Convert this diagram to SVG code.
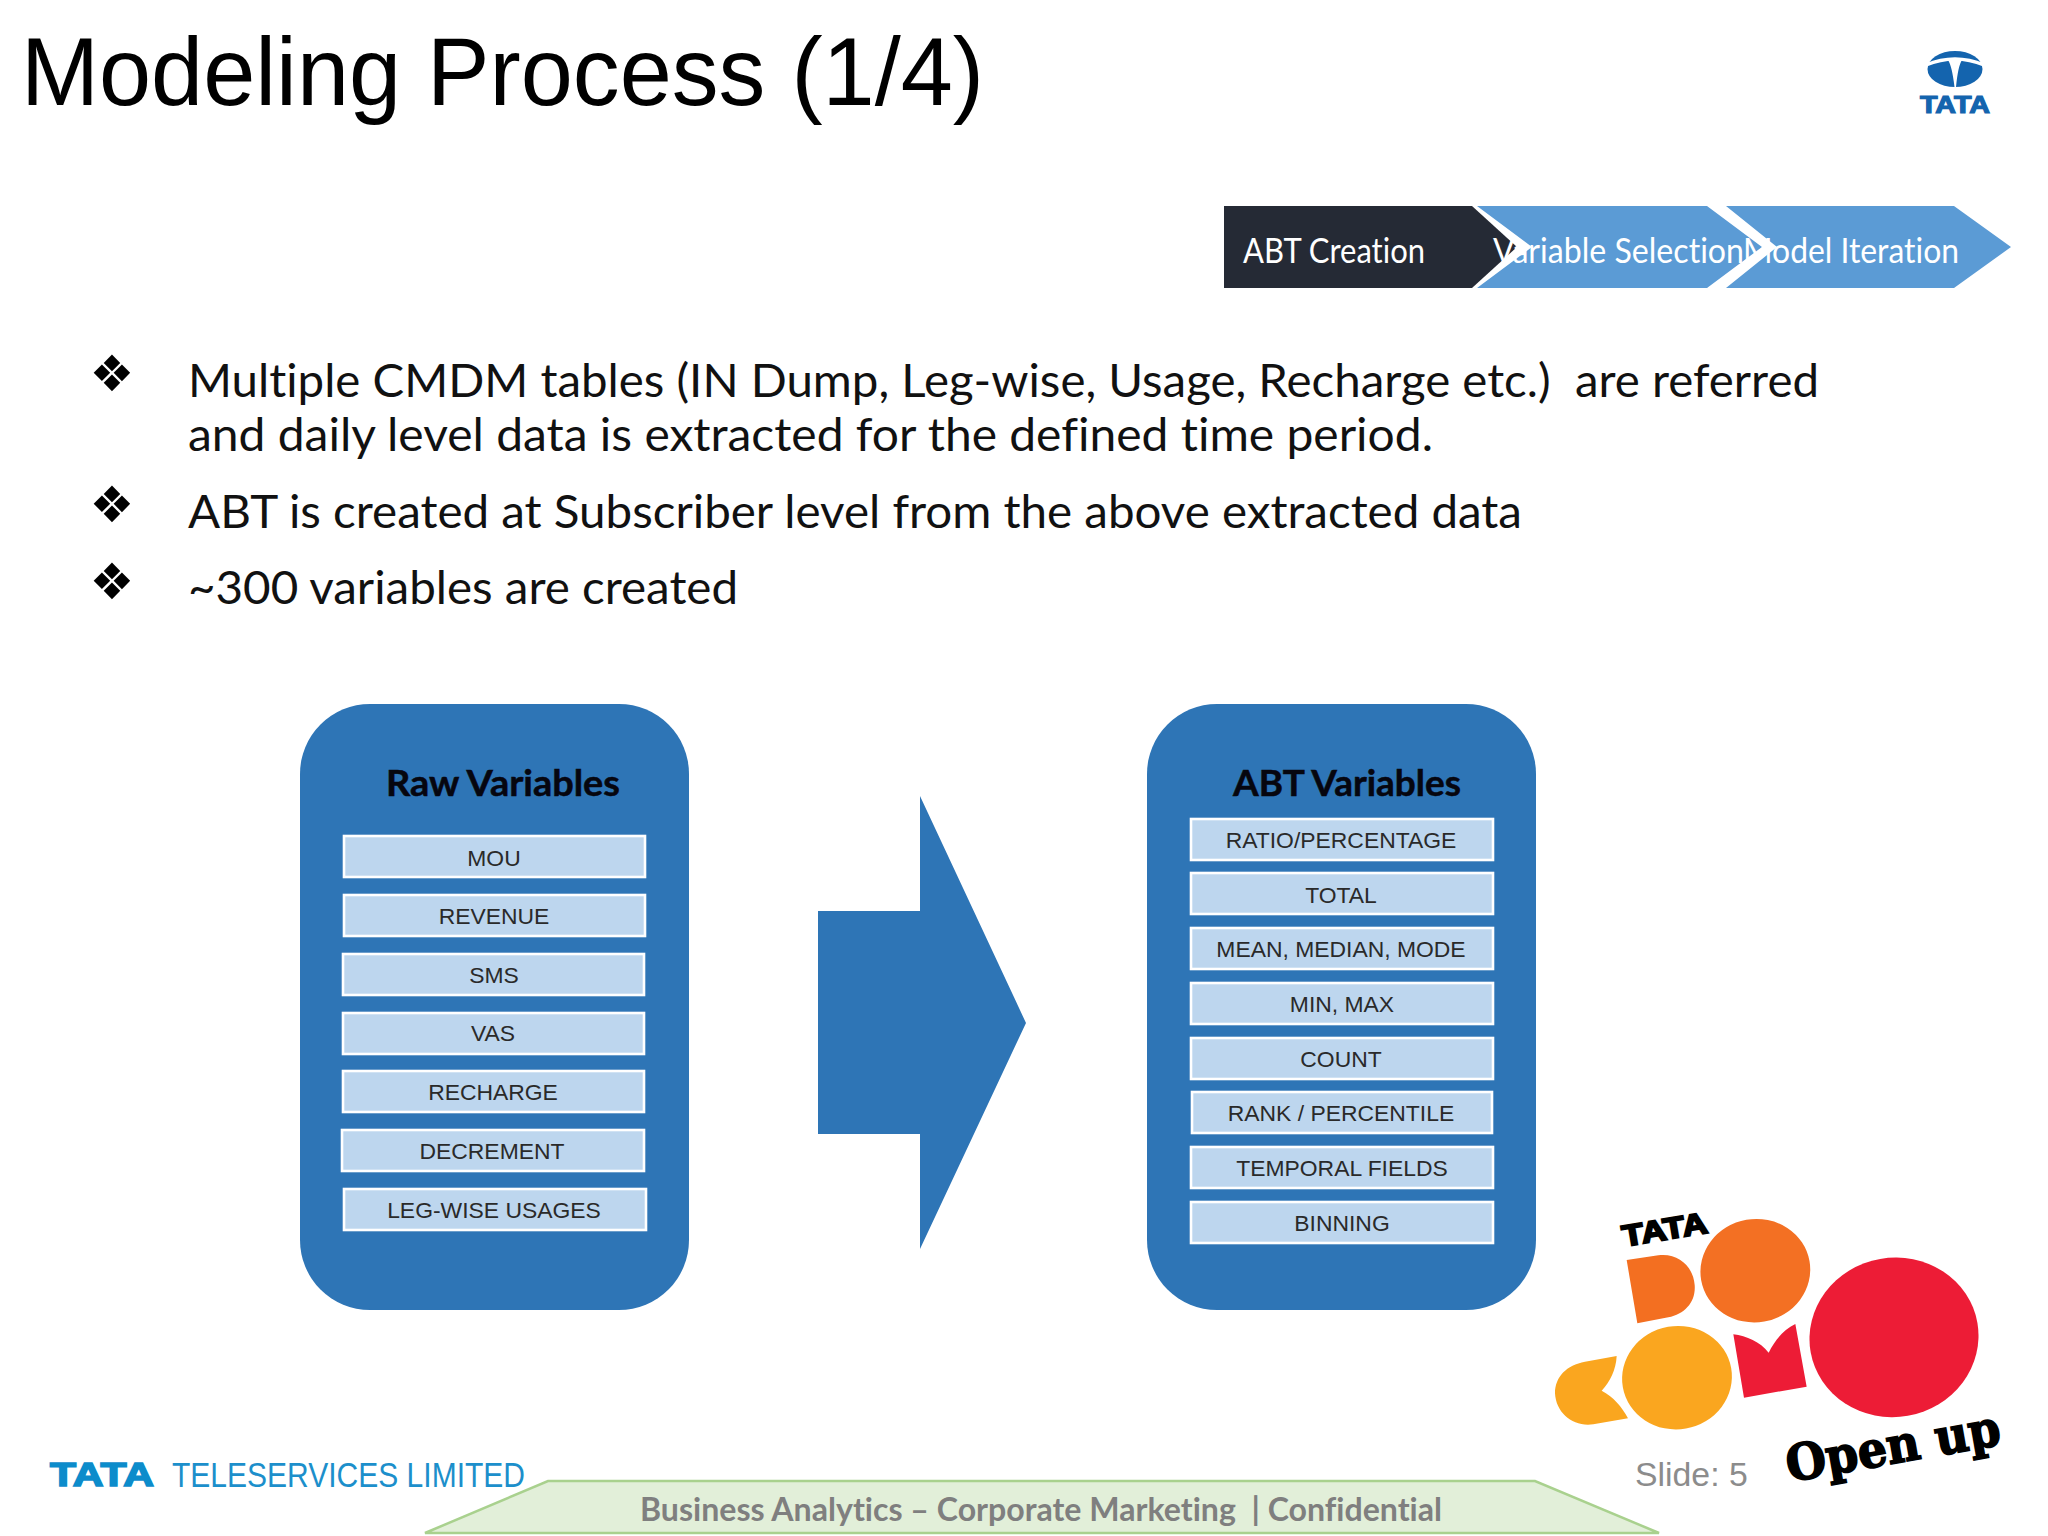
<svg xmlns="http://www.w3.org/2000/svg" width="2048" height="1536" viewBox="0 0 2048 1536">
<style>
text{font-variant-ligatures:none;white-space:pre}
.body{font-family:"Lato","Open Sans",sans-serif;font-size:46px;fill:#111}
.bul{font-family:"DejaVu Sans",sans-serif;font-size:50px;fill:#000;text-anchor:middle}
.chev{font-family:"Lato","Open Sans",sans-serif;font-size:34px;fill:#fff}
.panel{fill:#2E75B6}
.ptitle{font-family:"Lato","Open Sans",sans-serif;font-size:36px;font-weight:700;fill:#06060f;stroke:#06060f;stroke-width:.5}
.row rect{fill:#BDD6EE;stroke:#fff;stroke-width:2.6}
.row text{font-family:"Liberation Sans",Arial,sans-serif;font-size:22.900px;fill:#2a2a2a;text-anchor:middle}
.tata{font-family:"Liberation Sans",Arial,sans-serif;font-weight:700}
</style>
<rect width="2048" height="1536" fill="#fff"/>
<text id="title" x="21" y="105" font-family="Liberation Sans, Arial, sans-serif" font-size="96" fill="#000" textLength="963" lengthAdjust="spacingAndGlyphs">Modeling Process (1/4)</text>

<g id="tata-logo">
<ellipse cx="1955" cy="69" rx="27.500" ry="18" fill="#1464AE"/>
<path d="M1926 65 Q1955 53 1984 65" fill="none" stroke="#fff" stroke-width="3.500"/>
<path d="M1948 60 L1962 60 Q1958 66 1956 87 L1954.500 87 Q1952 66 1948 60 Z" fill="#fff"/>
<text class="tata" x="1920" y="113" font-size="24" fill="#1464AE" stroke="#1464AE" stroke-width="1.200" textLength="70" lengthAdjust="spacingAndGlyphs">TATA</text>
</g>

<g id="steps">
<g id="step-abt">
<polygon points="1224,206 1472,206 1517,247 1472,288 1224,288" fill="#252A35"/>
<text class="chev" x="1243" y="263" textLength="182" lengthAdjust="spacingAndGlyphs">ABT Creation</text>
</g>
<g id="step-var">
<polygon points="1477,206 1707,206 1762,247 1707,288 1477,288 1532,247" fill="#5B9BD5"/>
<text class="chev" x="1493" y="263" textLength="251" lengthAdjust="spacingAndGlyphs">Variable Selection</text>
</g>
<g id="step-model">
<polygon points="1726,206 1954,206 2011,247 1954,288 1726,288 1777,247" fill="#5B9BD5"/>
<text class="chev" x="1743" y="263" textLength="216" lengthAdjust="spacingAndGlyphs">Model Iteration</text>
</g>
</g>

<g id="bullets">
<text class="bul" x="112" y="391">❖</text>
<text class="bul" x="112" y="522">❖</text>
<text class="bul" x="112" y="599">❖</text>
<text class="body" x="188" y="397" textLength="1631" lengthAdjust="spacingAndGlyphs">Multiple CMDM tables (IN Dump, Leg-wise, Usage, Recharge etc.)  are referred</text>
<text class="body" x="188" y="451" textLength="1245" lengthAdjust="spacingAndGlyphs">and daily level data is extracted for the defined time period.</text>
<text class="body" x="188" y="528" textLength="1334" lengthAdjust="spacingAndGlyphs">ABT is created at Subscriber level from the above extracted data</text>
<text class="body" x="188" y="604" textLength="550" lengthAdjust="spacingAndGlyphs">~300 variables are created</text>
</g>

<g id="raw-variables">
<rect class="panel" x="300" y="704" width="389" height="606" rx="70" ry="70"/>
<text class="ptitle" x="386" y="796" textLength="234" lengthAdjust="spacingAndGlyphs">Raw Variables</text>
<g class="row"><rect x="344" y="836" width="301" height="41"/><text x="494" y="866">MOU</text></g>
<g class="row"><rect x="344" y="895" width="301" height="41"/><text x="494" y="924">REVENUE</text></g>
<g class="row"><rect x="343" y="954" width="301" height="41"/><text x="494" y="983">SMS</text></g>
<g class="row"><rect x="343" y="1013" width="301" height="41"/><text x="493" y="1041">VAS</text></g>
<g class="row"><rect x="343" y="1071" width="301" height="41"/><text x="493" y="1100">RECHARGE</text></g>
<g class="row"><rect x="342" y="1130" width="302" height="41"/><text x="492" y="1159">DECREMENT</text></g>
<g class="row"><rect x="344" y="1189" width="302" height="41"/><text x="494" y="1218">LEG-WISE USAGES</text></g>
</g>

<g id="connectors">
<polygon id="big-arrow" points="818,911 920,911 920,796 1026,1023 920,1249 920,1134 818,1134" fill="#2E75B6"/>
</g>

<g id="abt-variables">
<rect class="panel" x="1147" y="704" width="389" height="606" rx="70" ry="70"/>
<text class="ptitle" x="1233" y="796" textLength="228" lengthAdjust="spacingAndGlyphs">ABT Variables</text>
<g class="row"><rect x="1191" y="819" width="302" height="41"/><text x="1341" y="848">RATIO/PERCENTAGE</text></g>
<g class="row"><rect x="1191" y="873" width="302" height="41"/><text x="1341" y="903">TOTAL</text></g>
<g class="row"><rect x="1191" y="928" width="302" height="41"/><text x="1341" y="957">MEAN, MEDIAN, MODE</text></g>
<g class="row"><rect x="1191" y="983" width="302" height="41"/><text x="1342" y="1012">MIN, MAX</text></g>
<g class="row"><rect x="1191" y="1038" width="302" height="41"/><text x="1341" y="1067">COUNT</text></g>
<g class="row"><rect x="1192" y="1092" width="300" height="41"/><text x="1341" y="1121">RANK / PERCENTILE</text></g>
<g class="row"><rect x="1191" y="1147" width="302" height="41"/><text x="1342" y="1176">TEMPORAL FIELDS</text></g>
<g class="row"><rect x="1191" y="1202" width="302" height="41"/><text x="1342" y="1231">BINNING</text></g>
</g>

<g id="docomo-logo" transform="translate(1530 1180) scale(.33333)">
<path d="M290 240 L385 226 C445 218 490 260 494 315 C498 365 465 402 415 412 L322 430 Z" fill="#F36F21"/>
<ellipse cx="676" cy="272" rx="165" ry="155" transform="rotate(-10 676 272)" fill="#F37023"/>
<path d="M260 528 L165 545 C110 555 75 590 75 640 C78 700 130 742 190 733 L294 715 C275 680 250 650 215 632 C240 605 258 570 260 528 Z" fill="#FAA61F"/>
<ellipse cx="441" cy="593" rx="165" ry="155" transform="rotate(-10 441 593)" fill="#FAA61F"/>
<path d="M610 463 C650 468 690 485 716 518 C735 480 760 450 796 432 L830 620 L642 653 Z" fill="#ED1C36"/>
<ellipse cx="1092" cy="472" rx="254" ry="239" transform="rotate(-10 1092 472)" fill="#ED1C36"/>
<text class="tata" transform="translate(282 200) rotate(-9.500)" font-size="90" fill="#000" stroke="#000" stroke-width="6" textLength="258" lengthAdjust="spacingAndGlyphs">TATA</text>
<text transform="translate(778 906) rotate(-10)" font-family="DejaVu Serif, serif" font-weight="700" font-size="150" fill="#000" stroke="#000" stroke-width="5" textLength="650" lengthAdjust="spacingAndGlyphs">Open up</text>
</g>

<text id="slide-no" x="1635" y="1486" font-family="Liberation Sans, Arial, sans-serif" font-size="33.800" fill="#8C8C8C">Slide: 5</text>

<g id="teleservices">
<text class="tata" x="50" y="1486" font-size="34" fill="#0C8CCB" stroke="#0C8CCB" stroke-width="1.600" textLength="104" lengthAdjust="spacingAndGlyphs">TATA</text>
<text x="172" y="1487" font-family="Liberation Sans, Arial, sans-serif" font-size="35" fill="#1C8FCB" textLength="353" lengthAdjust="spacingAndGlyphs">TELESERVICES LIMITED</text>
</g>

<g id="footer">
<polygon points="548,1481 1535,1481 1659,1533 425,1533" fill="#E2EFD9" stroke="#A9D18E" stroke-width="2.500"/>
<text x="640" y="1521" font-family="Lato, Open Sans, sans-serif" font-weight="700" font-size="33" fill="#7F7F7F" textLength="802" lengthAdjust="spacingAndGlyphs">Business Analytics – Corporate Marketing  | Confidential</text>
</g>
</svg>
